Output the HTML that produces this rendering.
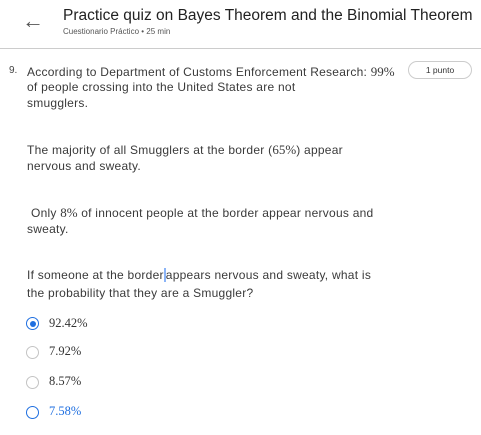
<!DOCTYPE html>
<html><head><meta charset="utf-8"><style>
body{margin:0;width:481px;height:435px;background:#fff;position:relative;overflow:hidden;font-family:"Liberation Sans",sans-serif;color:#333}
.a{position:absolute;white-space:nowrap}
.t{font-size:12px;color:#3a3a3a;letter-spacing:0.25px}
.m{font-family:"Liberation Serif",serif;font-size:13px;letter-spacing:0}
.r{position:absolute;width:11px;height:11px;border-radius:50%;border:1.5px solid #c4c4c4;left:26px}
.o{font-family:"Liberation Serif",serif;font-size:12.5px;left:49px;color:#333}
</style></head><body>
<div class="a" style="left:22px;top:8px;font-size:22px;color:#555">&#8592;</div>
<div class="a" style="left:63px;top:7px;font-size:15.5px;color:#222">Practice quiz on Bayes Theorem and the Binomial Theorem</div>
<div class="a" style="left:63px;top:27px;font-size:8px;color:#555">Cuestionario Práctico • 25 min</div>
<div class="a" style="left:0;top:48px;width:481px;height:1px;background:#ccc"></div>
<div class="a" style="left:9px;top:65px;font-size:10px;color:#444">9.</div>
<div class="a" style="left:408px;top:61px;width:62px;height:16px;border:1px solid #ccc;border-radius:9px;font-size:8.5px;text-align:center;line-height:16px;color:#333">1 punto</div>
<div class="a t" style="left:27px;top:64px">According to Department of Customs Enforcement Research: <span class="m">99%</span></div>
<div class="a t" style="left:27px;top:80px">of people crossing into the United States are not</div>
<div class="a t" style="left:27px;top:96px">smugglers.</div>
<div class="a t" style="left:27px;top:142px">The majority of all Smugglers at the border (<span class="m">65%</span>) appear</div>
<div class="a t" style="left:27px;top:159px">nervous and sweaty.</div>
<div class="a t" style="left:31px;top:205px">Only <span class="m">8%</span> of innocent people at the border appear nervous and</div>
<div class="a t" style="left:27px;top:222px">sweaty.</div>
<div class="a t" style="left:27px;top:268px">If someone at the border<span style="border-left:2px solid #8ab4f8">a</span>ppears nervous and sweaty, what is</div>
<div class="a t" style="left:27px;top:286px">the probability that they are a Smuggler?</div>
<div class="r" style="top:317px;border-color:#1f6fe0"><div style="position:absolute;left:2.5px;top:2.5px;width:6px;height:6px;border-radius:50%;background:#1f6fe0"></div></div>
<div class="a o" style="top:316px">92.42%</div>
<div class="r" style="top:346px"></div>
<div class="a o" style="top:344px">7.92%</div>
<div class="r" style="top:376px"></div>
<div class="a o" style="top:374px">8.57%</div>
<div class="r" style="top:406px;border-color:#1f6fe0"></div>
<div class="a o" style="top:404px;color:#1f6fe0">7.58%</div>
</body></html>
